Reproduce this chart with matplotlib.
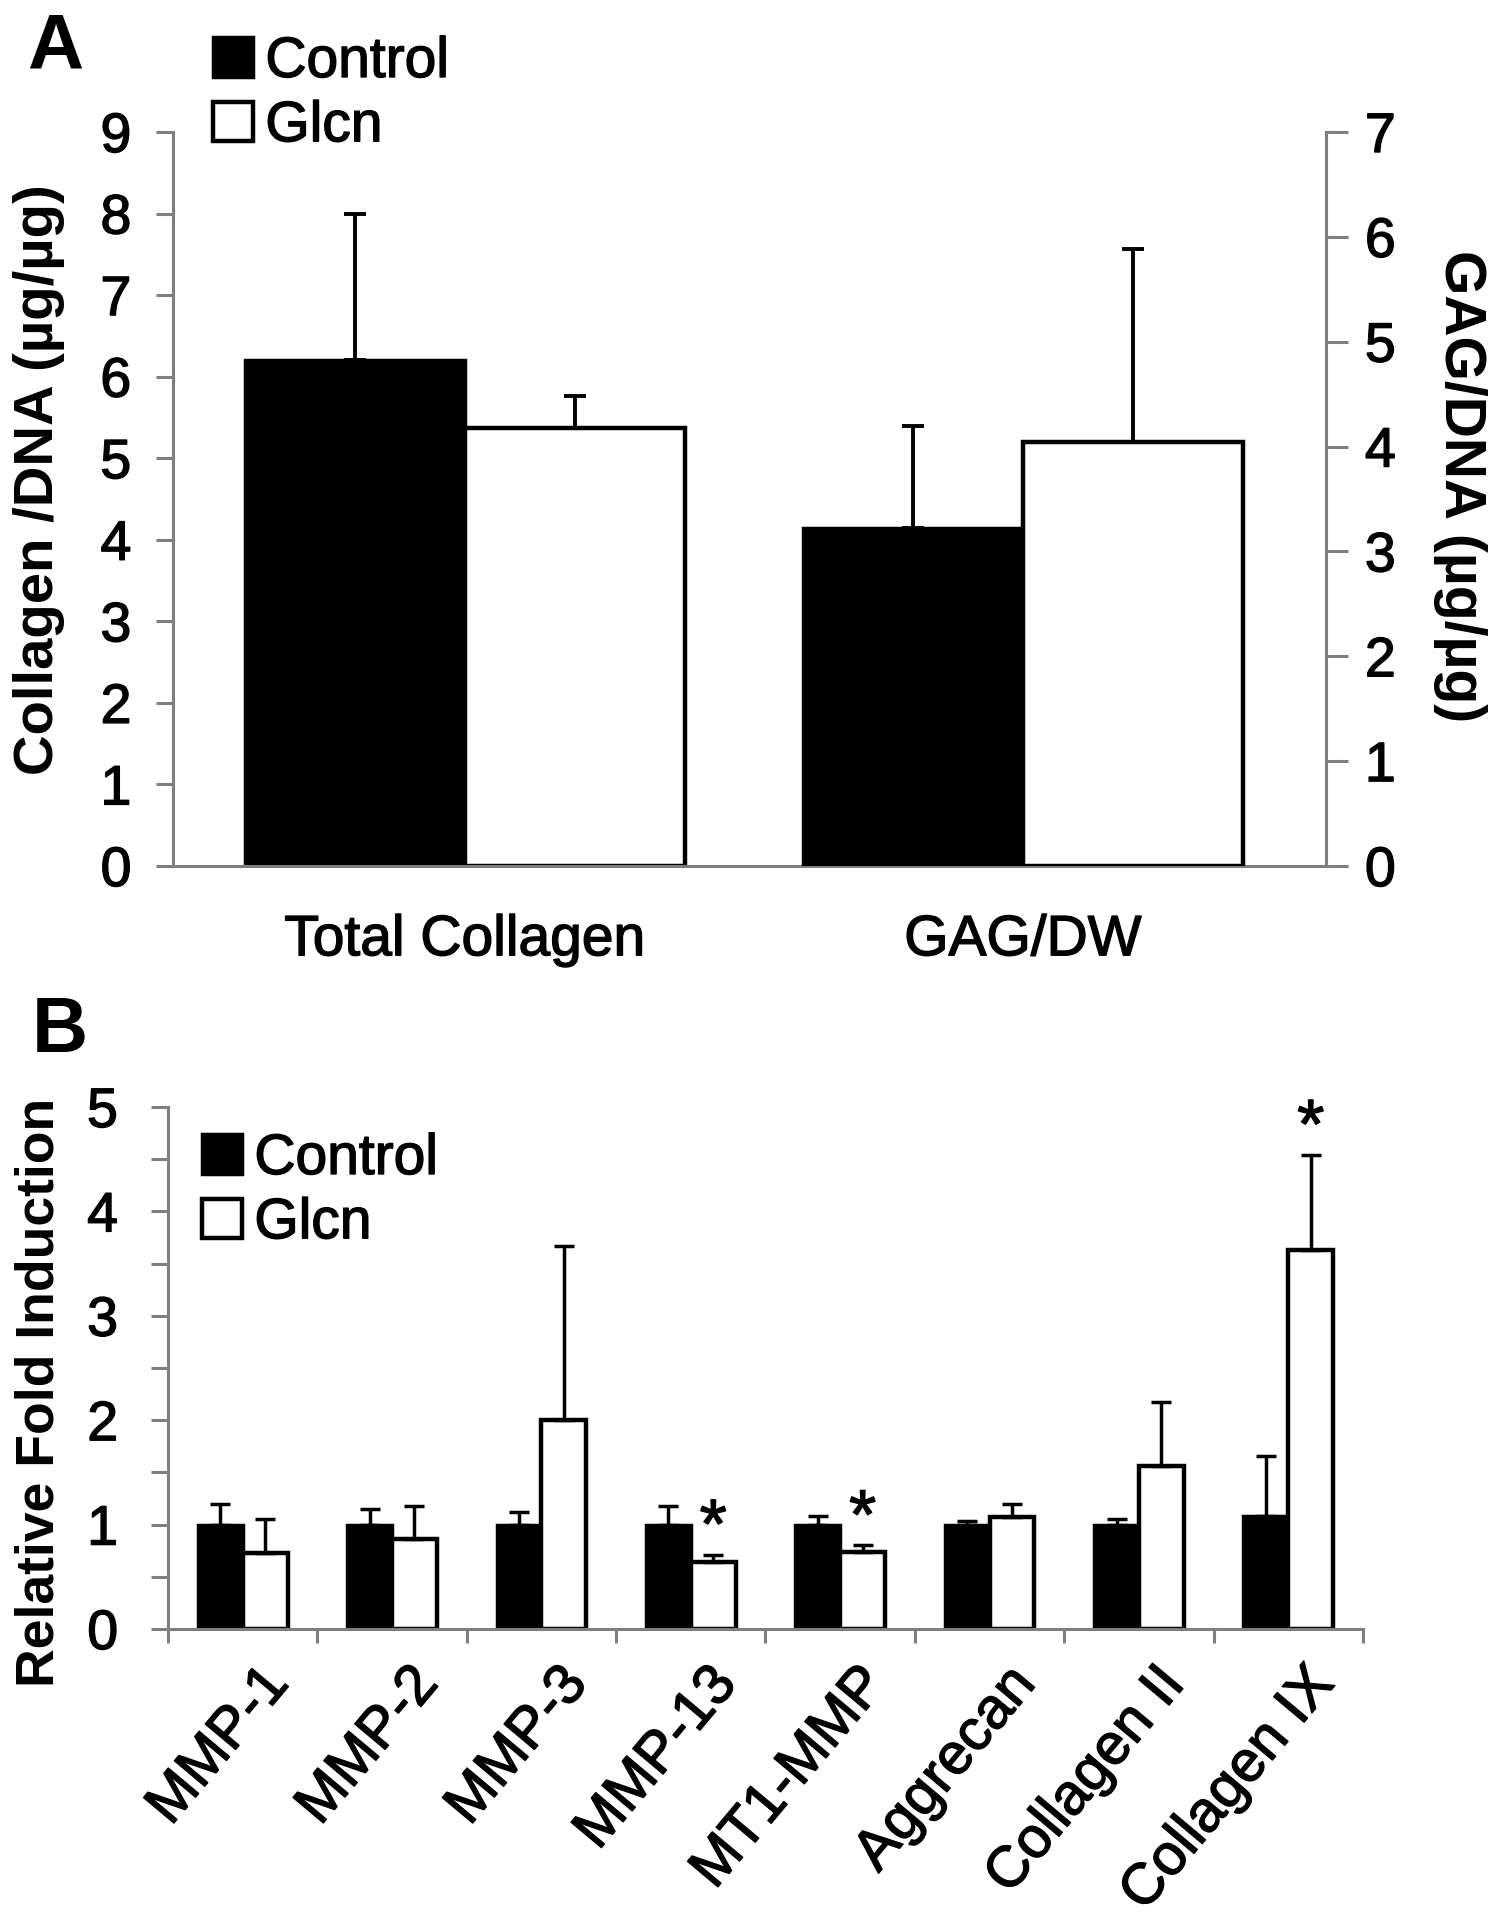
import numpy as np
import matplotlib
matplotlib.use('Agg')
import matplotlib.pyplot as plt
from matplotlib.patches import Patch
from matplotlib.transforms import ScaledTranslation
from matplotlib import patheffects as pe

plt.rcParams['font.family'] = ['Liberation Sans', 'DejaVu Sans']

# panel A data
a_groups = ['Total Collagen', 'GAG/DW']
a_control = [6.2, 3.22]
a_control_err = [1.8, 0.98]
a_glcn = [5.37, 4.04]
a_glcn_err = [0.39, 1.84]

# panel B data
genes = ['MMP-1', 'MMP-2', 'MMP-3', 'MMP-13', 'MT1-MMP', 'Aggrecan', 'Collagen II', 'Collagen IX']
b_control = [1.0, 1.0, 1.0, 1.0, 1.0, 1.0, 1.0, 1.08]
b_control_err = [0.2, 0.15, 0.12, 0.18, 0.08, 0.03, 0.05, 0.58]
b_glcn = [0.73, 0.86, 2.0, 0.64, 0.74, 1.07, 1.56, 3.63]
b_glcn_err = [0.32, 0.32, 1.67, 0.07, 0.06, 0.13, 0.61, 0.91]
b_signif = [False, False, False, True, True, False, False, True]

W, H = 1494, 1920
GRAY = '#7f7f7f'
FS = 40
thick = [pe.withStroke(linewidth=1.0, foreground='black')]

fig = plt.figure(figsize=(W / 100, H / 100), dpi=100)


def box(l, t, r, b):
    return [l / W, 1 - b / H, (r - l) / W, (b - t) / H]


def upper(err):
    return np.array([np.zeros(len(err)), err])


def fatten(texts):
    for t in texts:
        t.set_path_effects(thick)


err_a = dict(ecolor='black', elinewidth=2.8, capsize=8, capthick=2.8)
err_b = dict(ecolor='black', elinewidth=2.5, capsize=7, capthick=2.5)

# ---------- panel A ----------
ax = fig.add_axes(box(173, 132, 1326, 866))
ax2 = ax.twinx()
wa = 0.394
ax.bar([0 - wa / 2], [a_control[0]], wa, color='black', edgecolor='black', linewidth=2.5,
       yerr=upper([a_control_err[0]]), error_kw=err_a, zorder=2)
ax.bar([0 + wa / 2], [a_glcn[0]], wa, color='white', edgecolor='black', linewidth=3.2,
       yerr=upper([a_glcn_err[0]]), error_kw=err_a, zorder=2)
ax2.bar([1 - wa / 2], [a_control[1]], wa, color='black', edgecolor='black', linewidth=2.5,
        yerr=upper([a_control_err[1]]), error_kw=err_a, zorder=2)
ax2.bar([1 + wa / 2], [a_glcn[1]], wa, color='white', edgecolor='black', linewidth=3.2,
        yerr=upper([a_glcn_err[1]]), error_kw=err_a, zorder=2)

ax.set_xlim(-0.523, 1.543)
ax.set_ylim(0, 9)
ax2.set_ylim(0, 7)
ax.set_yticks(range(0, 10))
ax2.set_yticks(range(0, 8))
ax.set_xticks([0, 1], a_groups)
ax.tick_params(axis='x', length=0, pad=34, labelsize=41)
ax.tick_params(axis='y', direction='out', length=12, width=2.2, color=GRAY, labelsize=FS, pad=18)
ax2.tick_params(axis='y', direction='out', length=16, width=2.2, color=GRAY, labelsize=FS, pad=12)
for a in (ax, ax2):
    for s in a.spines.values():
        s.set_color(GRAY)
        s.set_linewidth(2.2)
    a.spines['top'].set_visible(False)
ax.spines['right'].set_visible(False)
ax2.spines['left'].set_visible(False)
ax2.spines['bottom'].set_visible(False)
fatten(ax.get_xticklabels() + ax.get_yticklabels() + ax2.get_yticklabels())

fig.text(39 / W, 1 - 480 / H, 'Collagen /DNA (µg/µg)', rotation=90, ha='center', va='center',
         fontsize=40.5, fontweight='bold')
fig.text(1460 / W, 1 - 486 / H, 'GAG/DNA (µg/µg)', rotation=270, ha='center', va='center',
         fontsize=41, fontweight='bold')
fig.text(27 / W, 1 - 68 / H, 'A', ha='left', va='baseline', fontsize=56, fontweight='bold')

handles = [Patch(facecolor='black', edgecolor='black', linewidth=2.5),
           Patch(facecolor='white', edgecolor='black', linewidth=3.2)]
leg_kw = dict(loc='upper left', frameon=False, fontsize=41, handlelength=0.7, handleheight=0.68,
              handletextpad=0.22, labelspacing=0.18, borderaxespad=0, borderpad=0)
leg = fig.legend(handles, ['Control', 'Glcn'], bbox_to_anchor=(213 / W, 1 - 35 / H), **leg_kw)
fatten(leg.get_texts())

# ---------- panel B ----------
bx = fig.add_axes(box(168, 1107, 1363, 1629))
x = np.arange(len(genes))
wb = 0.3
bx.bar(x - wb / 2, b_control, wb, color='black', edgecolor='black', linewidth=2.5,
       yerr=upper(b_control_err), error_kw=err_b, zorder=2)
bx.bar(x + wb / 2, b_glcn, wb, color='white', edgecolor='black', linewidth=3.2,
       yerr=upper(b_glcn_err), error_kw=err_b, zorder=2)
for i, sig in enumerate(b_signif):
    if sig:
        st = bx.text(i + wb / 2, b_glcn[i] + b_glcn_err[i] + 0.07, '*', ha='center', va='baseline',
                     fontsize=50)
        st.set_path_effects(thick)

bx.set_xlim(-0.5, len(genes) - 0.5)
bx.set_ylim(0, 5)
bx.set_yticks(range(0, 6))
bx.set_yticks(np.arange(0.5, 5, 1), minor=True)
bx.set_xticks(x, genes, rotation=50, ha='right', va='center', rotation_mode='anchor')
bx.set_xticks(np.arange(-0.5, len(genes), 1), minor=True)
bx.tick_params(axis='x', which='major', length=0, pad=33, labelsize=41.5)
bx.tick_params(axis='x', which='minor', direction='out', length=10, width=2.2, color=GRAY)
bx.tick_params(axis='y', which='both', direction='out', length=12, width=2.2, color=GRAY)
bx.tick_params(axis='y', which='major', labelsize=FS, pad=24)
for s in bx.spines.values():
    s.set_color(GRAY)
    s.set_linewidth(2.2)
bx.spines['top'].set_visible(False)
bx.spines['right'].set_visible(False)

for lab in bx.get_xticklabels():
    lab.set_transform(lab.get_transform() + ScaledTranslation(0.36, 0, fig.dpi_scale_trans))
fatten(bx.get_xticklabels() + bx.get_yticklabels())

fig.text(40 / W, 1 - 1392 / H, 'Relative Fold Induction', rotation=90, ha='center', va='center',
         fontsize=38.5, fontweight='bold')
fig.text(32 / W, 1 - 1052 / H, 'B', ha='left', va='baseline', fontsize=56, fontweight='bold')
leg_b = fig.legend(handles, ['Control', 'Glcn'], bbox_to_anchor=(202 / W, 1 - 1132 / H), **leg_kw)
fatten(leg_b.get_texts())

fig.savefig('out.png', dpi=100)
